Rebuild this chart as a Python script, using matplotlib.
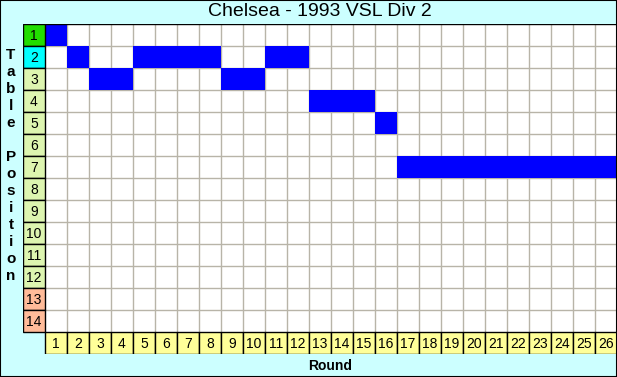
import matplotlib.pyplot as plt
from matplotlib.patches import Rectangle

# Data
title = 'Chelsea - 1993 VSL Div 2'
rounds = list(range(1, 27))
positions = [1, 2, 3, 3, 2, 2, 2, 2, 3, 3, 2, 2, 4, 4, 4, 5,
             7, 7, 7, 7, 7, 7, 7, 7, 7, 7]
n_teams = 14
ylabel = 'Table Position'

W, H = 617, 377
fig = plt.figure(figsize=(W / 100, H / 100), dpi=100)
fig.patch.set_facecolor('#ccffff')
fig.patches.append(Rectangle((0, 0), 1, 1, transform=fig.transFigure,
                             fill=False, edgecolor='black', linewidth=1.5))

# axes covers label column + grid + round row (pixel layout 23..617, 24..354)
ax = fig.add_axes([23 / W, 1 - 354 / H, 594 / W, 330 / H])
ax.set_xlim(-0.5, 26.5)
ax.set_ylim(15.5, 0.5)
ax.axis('off')

ncol = len(rounds)
# white grid area
ax.add_patch(Rectangle((0.5, 0.5), ncol, n_teams, facecolor='white', edgecolor='none'))
for x in range(1, ncol):
    ax.plot([x + 0.5, x + 0.5], [0.5, n_teams + 0.5], color='#b8b4a8', lw=1, zorder=1)
for y in range(1, n_teams):
    ax.plot([0.5, ncol + 0.5], [y + 0.5, y + 0.5], color='#b8b4a8', lw=1, zorder=1)

# team position cells
for r, p in zip(rounds, positions):
    ax.add_patch(Rectangle((r - 0.5, p - 0.5), 1, 1, facecolor='#0000ff',
                           edgecolor='none', zorder=2))

ax.plot([0.5, ncol + 0.5], [0.5, 0.5], color='black', lw=1, zorder=3)

# position labels
for p in range(1, n_teams + 1):
    if p == 1:
        c = '#22dd00'
    elif p == 2:
        c = '#00ffff'
    elif p >= 13:
        c = '#ffbb99'
    else:
        c = '#ddf5b0'
    ax.add_patch(Rectangle((-0.5, p - 0.5), 1, 1, facecolor=c,
                           edgecolor='black', lw=1, zorder=3))
    ax.text(0, p + 0.05, str(p), ha='center', va='center', fontsize=10,
            family='Liberation Sans', zorder=4)

# round labels
for r in rounds:
    ax.add_patch(Rectangle((r - 0.5, n_teams + 0.5), 1, 1, facecolor='#ffff99',
                           edgecolor='black', lw=1, zorder=3))
    ax.text(r, n_teams + 1.05, str(r), ha='center', va='center', fontsize=10,
            family='Liberation Sans', zorder=4)

fig.text(320 / W, 1 - 12 / H, title, ha='center', va='center', fontsize=14,
         family='Liberation Sans')
fig.text(330 / W, 1 - 366 / H, 'Round', ha='center', va='center', fontsize=10,
         family='Liberation Sans', weight='bold')
for i, ch in enumerate(ylabel):
    fig.text(11 / W, 1 - (55 + 17 * i) / H, ch, ha='center', va='center',
             fontsize=11, family='Liberation Sans', weight='bold')

fig.savefig('out.png', dpi=100, facecolor=fig.get_facecolor())
